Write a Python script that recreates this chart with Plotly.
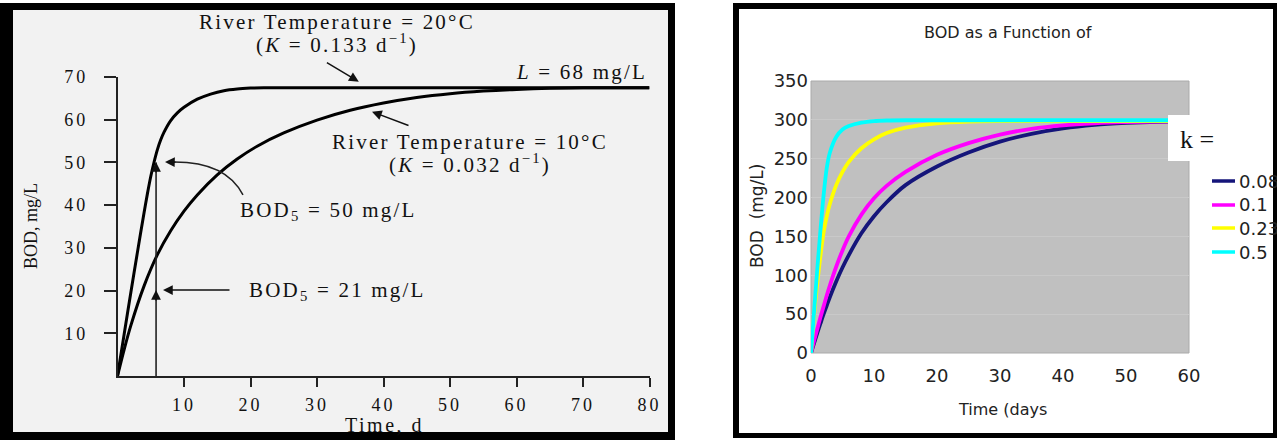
import plotly.graph_objects as go

W, H = 1277, 440


def px(x):
    return x / W


def py(y):
    return 1 - y / H


def ls(s, sp):
    return f'<span style="letter-spacing:{sp}px">{s}</span>'


# ---------------- Left panel data ----------------
t_20C = [0, 1, 2, 3, 4, 4.5, 5, 5.5, 6, 6.5, 7, 8, 9, 10, 12, 14, 16, 18, 20, 22, 80]
bod_20C = [0, 9.8, 19.5, 29, 38.3, 42.7, 46.7, 50.1, 53, 55.3, 57.1, 59.8, 61.6, 62.9, 64.8, 66, 66.8, 67.2, 67.4, 67.5, 67.5]
t_10C = [0, 1, 2, 4, 6, 8, 10, 12, 15, 18, 21, 25, 30, 35, 40, 45, 50, 55, 60, 65, 70, 80]
bod_10C = [0, 6.2, 11.8, 21.1, 28.4, 34.0, 38.6, 42.4, 47.1, 50.8, 53.8, 56.9, 59.9, 62.2, 63.9, 65.2, 66.1, 66.7, 67.1, 67.35, 67.5, 67.5]
bod5_day = 5.8
bod5_20C = 50
bod5_10C = 20
left_xticks = [10, 20, 30, 40, 50, 60, 70, 80]
left_yticks = [10, 20, 30, 40, 50, 60, 70]

# ---------------- Right panel data ----------------
t_days = [0, 0.5, 1, 1.5, 2, 2.5, 3, 4, 5, 6, 8, 10, 12, 15, 20, 25, 30, 35, 40, 45, 50, 55, 60]
bod_k008 = [0, 13, 26, 38, 50, 61, 72, 92, 110, 126, 154, 176, 194, 216, 240, 258, 272, 282, 289, 293.5, 296, 297.5, 298]
bod_k01 = [0, 16, 31, 46, 60, 74, 87, 111, 132, 150, 178, 199, 215, 233, 255, 270, 281, 288.5, 293, 295.5, 297, 297.8, 298]
bod_k023 = [0, 50, 90, 125, 155, 176, 192, 216, 233, 246, 263.5, 275, 283, 290, 295.5, 297.8, 298.4, 298.5, 298.5, 298.5, 298.5, 298.5, 298.5]
bod_k05 = [0, 55, 108, 158, 203, 238, 258, 278, 287.5, 292, 296.5, 298.5, 299.2, 299.5, 299.5, 299.5, 299.5, 299.5, 299.5, 299.5, 299.5, 299.5, 299.5]
k_labels = ["0.08", "0.1", "0.23", "0.5"]
k_colors = ["#15157a", "#ff00ff", "#ffff00", "#00ffff"]
right_xticks = [0, 10, 20, 30, 40, 50, 60]
right_yticks = [0, 50, 100, 150, 200, 250, 300, 350]

fig = go.Figure()

# left curves
for tx, by in [(t_20C, bod_20C), (t_10C, bod_10C)]:
    fig.add_trace(go.Scatter(x=tx, y=by, mode="lines",
                             line=dict(color="black", width=3, shape="spline", smoothing=0.8),
                             xaxis="x", yaxis="y", showlegend=False, hoverinfo="skip"))
# vertical BOD5 line
fig.add_trace(go.Scatter(x=[bod5_day, bod5_day], y=[0, bod5_20C], mode="lines", line=dict(color="#222", width=1.6),
                         xaxis="x", yaxis="y", showlegend=False, hoverinfo="skip"))

# right curves
for yv, name, col in zip([bod_k008, bod_k01, bod_k023, bod_k05], k_labels, k_colors):
    fig.add_trace(go.Scatter(x=t_days, y=yv, mode="lines", name=name,
                             line=dict(color=col, width=3.8, shape="spline", smoothing=0.8),
                             xaxis="x2", yaxis="y2", showlegend=False, hoverinfo="skip"))

serif = "Liberation Serif, Times New Roman, serif"
sans = "DejaVu Sans, Verdana, sans-serif"

shapes = [
    # left frame
    dict(type="rect", xref="paper", yref="paper", x0=px(0), x1=px(675), y0=py(440), y1=py(3),
         fillcolor="black", line=dict(width=0), layer="below"),
    dict(type="rect", xref="paper", yref="paper", x0=px(13), x1=px(668), y0=py(432), y1=py(10),
         fillcolor="#f2f2f2", line=dict(width=0), layer="below"),
    # right frame
    dict(type="rect", xref="paper", yref="paper", x0=px(733), x1=px(1277), y0=py(438), y1=py(3),
         fillcolor="black", line=dict(width=0), layer="below"),
    dict(type="rect", xref="paper", yref="paper", x0=px(739), x1=px(1273), y0=py(433), y1=py(9),
         fillcolor="white", line=dict(width=0), layer="below"),
    # right plot area
    dict(type="rect", xref="paper", yref="paper", x0=px(811), x1=px(1189), y0=py(353), y1=py(81),
         fillcolor="#c0c0c0", line=dict(width=1, color="#aaaaaa"), layer="below"),
    # curved arrow shaft (BOD5 = 50)
    dict(type="path", xref="x", yref="y", path="M 18.87,42.4 Q 16.2,50.6 7.6,50.1",
         line=dict(color="#222", width=1.5), layer="above"),
    # white box for "k ="
    dict(type="rect", xref="paper", yref="paper", x0=px(1168), x1=px(1192), y0=py(161), y1=py(115),
         fillcolor="white", line=dict(width=0), layer="above"),
]

# legend swatches
legend_y = [181, 205, 228, 252]
for yy, col in zip(legend_y, k_colors):
    shapes.append(dict(type="line", xref="paper", yref="paper", x0=px(1212), x1=px(1235), y0=py(yy), y1=py(yy),
                       line=dict(color=col, width=3.5), layer="above"))

ann = []


def text(x, y, s, size, family=serif, xanchor="center", angle=0, color="#111"):
    ann.append(dict(xref="paper", yref="paper", x=px(x), y=py(y), text=s, showarrow=False,
                    xanchor=xanchor, yanchor="middle", textangle=angle,
                    font=dict(family=family, size=size, color=color)))


def arrow(hx, hy, tx, ty):
    ann.append(dict(xref="paper", yref="paper", x=px(hx), y=py(hy), ax=tx - hx, ay=ty - hy, text="",
                    showarrow=True, arrowhead=2, arrowsize=1.3, arrowwidth=1.5, arrowcolor="#111", standoff=0))


# left texts
text(337, 22, ls("River Temperature = 20°C", 2.2), 21)
text(337, 43, ls("(<i>K</i> = 0.133 d<sup>−1</sup>)", 2.2), 21)
text(581, 72, ls("<i>L</i> = 68 mg/L", 2.2), 21)
text(470, 142, ls("River Temperature = 10°C", 2.2), 21)
text(470, 163, ls("(<i>K</i> = 0.032 d<sup>−1</sup>)", 2.2), 21)
text(328, 211, ls("BOD<sub>5</sub> = 50 mg/L", 2.2), 21)
text(337, 291, ls("BOD<sub>5</sub> = 21 mg/L", 2.2), 21)
text(31, 226, "BOD, mg/L", 18, angle=-90)
text(384, 425, ls("Time, d", 2.5), 20)

# left arrows
arrow(358.8, 81.7, 325.4, 61.7)
arrow(372, 111.7, 410, 126)
arrow(163, 290, 231, 290)
arrow(156, 162, 156, 174)
arrow(156, 290, 156, 302)
arrow(165, 162, 177, 162.3)

# right texts
text(1008, 32, "BOD as a Function of", 16, family=sans, color="#222")
text(757, 216, "BOD  (mg/L)", 17, family=sans, angle=-90, color="#222")
text(1002, 409, "Time (days", 16, family=sans, color="#222")
text(1197, 140, "k =", 26)
for yy, lab in zip(legend_y, k_labels):
    text(1237, yy, lab, 18, family=sans, xanchor="left", color="#222")

fig.update_layout(
    width=W, height=H, margin=dict(l=0, r=0, t=0, b=0, pad=0, autoexpand=False),
    paper_bgcolor="white", plot_bgcolor="rgba(0,0,0,0)",
    shapes=shapes, annotations=ann, showlegend=False,
    xaxis=dict(domain=[px(117.5), px(649.5)], range=[0, 80], anchor="y",
               tickvals=left_xticks, ticktext=[ls(str(v), 3) for v in left_xticks],
               ticks="outside", ticklen=9, tickwidth=1.5, tickcolor="#222",
               showline=True, linecolor="#222", linewidth=1.5, showgrid=False, zeroline=False,
               tickfont=dict(family=serif, size=18, color="#111"), ticklabelstandoff=3),
    yaxis=dict(domain=[py(376), py(77)], range=[0, 70], anchor="x",
               tickvals=left_yticks, ticktext=[ls(str(v), 3) for v in left_yticks],
               ticks="outside", ticklen=12, tickwidth=1.5, tickcolor="#222",
               showline=True, linecolor="#222", linewidth=1.5, showgrid=False, zeroline=False,
               tickfont=dict(family=serif, size=18, color="#111"), ticklabelstandoff=12),
    xaxis2=dict(domain=[px(811), px(1189)], range=[0, 60], anchor="y2",
                tickvals=right_xticks, ticks="", showline=False, showgrid=False, zeroline=False,
                tickfont=dict(family=sans, size=18, color="#222"), ticklabelstandoff=10),
    yaxis2=dict(domain=[py(353), py(81)], range=[0, 350], anchor="x2",
                tickvals=right_yticks, ticks="", showline=False, showgrid=True, gridcolor="#c9c9c9",
                gridwidth=1, zeroline=False,
                tickfont=dict(family=sans, size=18, color="#222"), ticklabelstandoff=2),
)

fig.write_html("out.html", config={"displayModeBar": False},
               post_script="document.body.style.margin='0';")
